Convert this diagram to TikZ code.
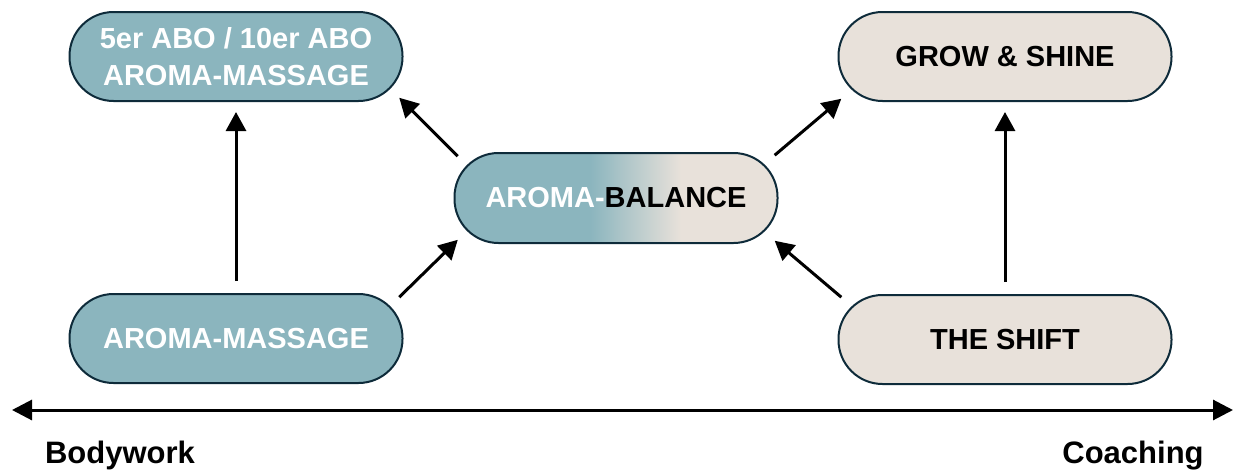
\documentclass[tikz,border=0pt]{standalone}
\usepackage{fontspec}
\setmainfont{Liberation Sans}
\usetikzlibrary{arrows.meta,positioning}
\definecolor{aromateal}{HTML}{8BB5BE}
\definecolor{aromasand}{HTML}{E8E1DA}
\definecolor{aromaline}{HTML}{0E2B3A}
\pgfdeclarehorizontalshading{balanceshade}{100bp}{color(0bp)=(aromateal); color(46bp)=(aromateal); color(60bp)=(aromasand); color(100bp)=(aromasand)}

\begin{document}
\begin{tikzpicture}[x=1pt, y=1pt]
	\tikzstyle{pill} = [rectangle, rounded corners=44pt, draw=aromaline, line width=2pt, minimum height=89pt, minimum width=333pt, inner sep=0pt, align=center, font=\fontsize{29}{37}\selectfont\bfseries]
	\tikzstyle{bodynode} = [pill, fill=aromateal, text=white]
	\tikzstyle{coachnode} = [pill, fill=aromasand, text=black]
	\tikzstyle{flow} = [-{Triangle[length=19pt, width=20pt]}, line width=3pt]
	\useasboundingbox (0,0) rectangle (1235,-471);
	\node[pill, shading=balanceshade, minimum width=323pt, minimum height=90pt] (BAL) at (616,-198) {\textcolor{white}{AROMA-}BALANCE};
	
	\node[above left=50pt and 50pt of BAL, bodynode] (ABO) {5er ABO / 10er ABO\\AROMA-MASSAGE};
	\node[below left=49pt and 50pt of BAL, bodynode] (MASSAGE) {AROMA-MASSAGE};
	\node[above right=50pt and 59pt of BAL, coachnode] (GROW) {GROW \& SHINE};
	\node[below right=50pt and 59pt of BAL, coachnode] (SHIFT) {THE SHIFT};
	
	\draw[flow, shorten <=12pt, shorten >=10pt] (MASSAGE.north) -- (ABO.south);
	\draw[flow, shorten <=12pt, shorten >=10pt] (SHIFT.north) -- (GROW.south);
	
	\draw[flow, shorten <=-6pt, shorten >=-6pt] (BAL.north west) -- (ABO.south east);
	\draw[flow, shorten <=-6pt, shorten >=-6pt] (MASSAGE.north east) -- (BAL.south west);
	\draw[flow, shorten <=-5pt, shorten >=-5pt] (BAL.north east) -- (GROW.south west);
	\draw[flow, shorten <=-5pt, shorten >=-5pt] (SHIFT.north west) -- (BAL.south east);
	
	\coordinate (WEST) at (12,-410);
	\coordinate (EAST) at (1233,-410);
	\draw[{Triangle[length=20pt, width=20pt]}-{Triangle[length=20pt, width=20pt]}, line width=3pt] (WEST) -- (EAST);
	\node[anchor=base, font=\fontsize{31}{34}\selectfont\bfseries] (BODY) at (120,-463) {Bodywork};
	\node[anchor=base, font=\fontsize{31}{34}\selectfont\bfseries] (COACH) at (1133,-463) {Coaching};
\end{tikzpicture}
\end{document}
